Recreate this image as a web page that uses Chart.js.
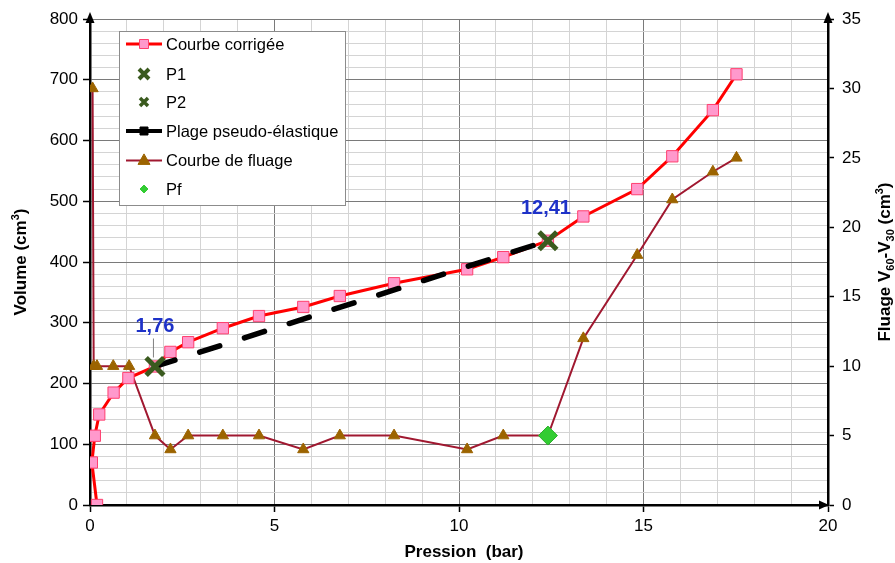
<!DOCTYPE html>
<html>
<head>
<meta charset="utf-8">
<script src="https://cdn.jsdelivr.net/npm/chart.js@4.4.1/dist/chart.umd.min.js"></script>
<style>
  html, body { margin: 0; padding: 0; background: #fff; }
  #wrap { width: 895px; height: 563px; }
</style>
</head>
<body>
<div id="wrap"><canvas id="c" width="895" height="563"></canvas></div>
<script>
// Courbe corrigée : pression (bar) / volume (cm³)
const pressionCorrigee = [0.19, 0.05, 0.13, 0.25, 0.64, 1.04, 1.76, 2.18, 2.66, 3.6, 4.58, 5.78, 6.77, 8.24, 10.22, 11.2, 12.41, 13.37, 14.83, 15.78, 16.88, 17.52];
const volumeCorrige    = [0, 70, 114, 149, 185, 209, 228, 252, 268, 291, 311, 326, 344, 365, 388, 408, 435, 475, 520, 574, 650, 709];

// Courbe de fluage : pression (bar) / V60-V30 (cm³)
const pressionFluage = [0.07, 0.1, 0.19, 0.63, 1.06, 1.76, 2.18, 2.66, 3.6, 4.58, 5.78, 6.77, 8.24, 10.22, 11.2, 12.41, 13.37, 14.83, 15.78, 16.88, 17.52];
const fluageV60V30   = [30, 10, 10, 10, 10, 5, 4, 5, 5, 5, 4, 5, 5, 4, 5, 5, 12, 18, 22, 24, 25];

// Points remarquables
const pressionP1 = 1.76,  volumeP1 = 228;
const pressionP2 = 12.41, volumeP2 = 435;
const pressionPf = 12.41, fluagePf = 5;

// Axes
const xTicksMajor = [0, 5, 10, 15, 20];
const yLeftMax = 800, yRightMax = 35;

const FONT = '"Liberation Sans", Arial, sans-serif';

const toXY = (xs, ys) => xs.map((x, i) => ({ x, y: ys[i] }));

const C = {
  red: '#ff0000',
  pinkFill: '#ff99cc',
  pinkEdge: '#ff3f6f',
  fluageLine: '#a01830',
  triangle: '#9c6400',
  green: '#3a5a1e',
  pf: '#33cc33',
  blue: '#1e32c8'
};

const datasets = [
  {
    label: 'Pf', yAxisID: 'y1', order: 0,
    data: [{ x: pressionPf, y: fluagePf }],
    showLine: false, pointStyle: 'rectRot', pointRadius: 9.5,
    backgroundColor: C.pf, borderColor: '#2bb02b', borderWidth: 1
  },
  {
    label: 'P2', yAxisID: 'y', order: 1,
    data: [{ x: pressionP2, y: volumeP2 }],
    showLine: false, pointStyle: 'crossRot', pointRadius: 12.5,
    borderColor: C.green, borderWidth: 5
  },
  {
    label: 'P1', yAxisID: 'y', order: 2,
    data: [{ x: pressionP1, y: volumeP1 }],
    showLine: false, pointStyle: 'crossRot', pointRadius: 12.5,
    borderColor: C.green, borderWidth: 5
  },
  {
    label: 'Plage pseudo-élastique', yAxisID: 'y', order: 3,
    data: [{ x: pressionP1, y: volumeP1 }, { x: pressionP2, y: volumeP2 }],
    showLine: true, borderColor: '#000', borderWidth: 5.5,
    borderDash: [21, 26], borderCapStyle: 'round',
    pointRadius: 0, tension: 0
  },
  {
    label: 'Courbe corrigée', yAxisID: 'y', order: 4,
    data: toXY(pressionCorrigee, volumeCorrige),
    showLine: true, borderColor: C.red, borderWidth: 3, tension: 0,
    pointStyle: 'rect', pointRadius: 8,
    pointBackgroundColor: C.pinkFill, pointBorderColor: C.pinkEdge, pointBorderWidth: 1
  },
  {
    label: 'Courbe de fluage', yAxisID: 'y1', order: 5,
    data: toXY(pressionFluage, fluageV60V30),
    showLine: true, borderColor: C.fluageLine, borderWidth: 2, tension: 0,
    pointStyle: 'triangle', pointRadius: 6.5,
    pointBackgroundColor: C.triangle, pointBorderColor: C.triangle, pointBorderWidth: 1
  }
];

const isMajorX = v => xTicksMajor.includes(v);
const isMajorY = v => v % 100 === 0;

// Small shape helpers for the legend symbols
function shape(ctx, type, x, y, s, fill, stroke, lw) {
  ctx.save();
  ctx.beginPath();
  if (type === 'rect') {
    ctx.rect(x - s, y - s, 2 * s, 2 * s);
  } else if (type === 'tri') {
    ctx.moveTo(x, y - s * 1.1);
    ctx.lineTo(x + s, y + s * 0.65);
    ctx.lineTo(x - s, y + s * 0.65);
    ctx.closePath();
  } else if (type === 'diamond') {
    ctx.moveTo(x, y - s); ctx.lineTo(x + s, y); ctx.lineTo(x, y + s); ctx.lineTo(x - s, y);
    ctx.closePath();
  } else if (type === 'cross') {
    ctx.moveTo(x - s, y - s); ctx.lineTo(x + s, y + s);
    ctx.moveTo(x + s, y - s); ctx.lineTo(x - s, y + s);
  }
  if (fill && type !== 'cross') { ctx.fillStyle = fill; ctx.fill(); }
  if (stroke) { ctx.strokeStyle = stroke; ctx.lineWidth = lw; ctx.stroke(); }
  ctx.restore();
}

function richText(ctx, parts, cx, cy, rotate) {
  ctx.save();
  ctx.translate(cx, cy);
  if (rotate) ctx.rotate(-Math.PI / 2);
  let total = 0;
  parts.forEach(p => {
    ctx.font = `bold ${p.size}px ${FONT}`;
    p.w = ctx.measureText(p.t).width;
    total += p.w;
  });
  let x = -total / 2;
  ctx.fillStyle = '#000';
  ctx.textAlign = 'left';
  ctx.textBaseline = 'alphabetic';
  parts.forEach(p => {
    ctx.font = `bold ${p.size}px ${FONT}`;
    ctx.fillText(p.t, x, 6 + (p.dy || 0));
    x += p.w;
  });
  ctx.restore();
}

const decor = {
  id: 'decor',
  afterDraw(chart) {
    const { ctx, chartArea: a, scales } = chart;
    const xs = scales.x, yl = scales.y;

    // Axis arrow heads
    ctx.save();
    ctx.fillStyle = '#000';
    const arrowUp = (x, y) => { ctx.beginPath(); ctx.moveTo(x, y - 7); ctx.lineTo(x + 4.5, y + 4); ctx.lineTo(x - 4.5, y + 4); ctx.closePath(); ctx.fill(); };
    arrowUp(a.left, a.top);
    arrowUp(a.right, a.top);
    ctx.beginPath(); ctx.moveTo(a.right + 1, a.bottom); ctx.lineTo(a.right - 9, a.bottom - 4.5); ctx.lineTo(a.right - 9, a.bottom + 4.5); ctx.closePath(); ctx.fill();
    ctx.restore();

    // Value labels for P1 and P2
    const p1x = xs.getPixelForValue(pressionP1), p1y = yl.getPixelForValue(volumeP1);
    const p2x = xs.getPixelForValue(pressionP2), p2y = yl.getPixelForValue(volumeP2);
    ctx.save();
    ctx.strokeStyle = '#808080'; ctx.lineWidth = 1;
    ctx.beginPath(); ctx.moveTo(p1x - 1.5, p1y - 28); ctx.lineTo(p1x - 1.5, p1y - 9); ctx.stroke();
    ctx.fillStyle = C.blue;
    ctx.font = `bold 20px ${FONT}`;
    ctx.textAlign = 'center'; ctx.textBaseline = 'middle';
    ctx.fillText('1,76', p1x, p1y - 40);
    ctx.fillText('12,41', p2x - 2, p2y - 32);
    ctx.restore();

    // Axis titles
    richText(ctx, [{ t: 'Pression  (bar)', size: 17 }], (a.left + a.right) / 2 + 5, 551, false);
    richText(ctx, [{ t: 'Volume (cm', size: 17 }, { t: '3', size: 11, dy: -7 }, { t: ')', size: 17 }], 20, (a.top + a.bottom) / 2, true);
    richText(ctx, [
      { t: 'Fluage V', size: 17 }, { t: '60', size: 11, dy: 4 },
      { t: '-V', size: 17 }, { t: '30', size: 11, dy: 4 },
      { t: ' (cm', size: 17 }, { t: '3', size: 11, dy: -7 }, { t: ')', size: 17 }
    ], 884, (a.top + a.bottom) / 2, true);

    // Legend box
    const L = { x: 119, y: 31, w: 226, h: 174 };
    ctx.save();
    ctx.fillStyle = '#fff';
    ctx.fillRect(L.x, L.y, L.w, L.h);
    ctx.strokeStyle = '#8c8c8c'; ctx.lineWidth = 1;
    ctx.strokeRect(L.x + 0.5, L.y + 0.5, L.w, L.h);
    const rows = [44, 74, 102, 131, 160.5, 189];
    const sx = 144, tx = 166;
    const line = (y, col, w) => { ctx.beginPath(); ctx.moveTo(126, y); ctx.lineTo(162, y); ctx.strokeStyle = col; ctx.lineWidth = w; ctx.stroke(); };
    line(rows[0], C.red, 3);
    shape(ctx, 'rect', sx, rows[0], 4.5, C.pinkFill, C.pinkEdge, 1);
    shape(ctx, 'cross', sx, rows[1], 5, null, C.green, 4);
    shape(ctx, 'cross', sx, rows[2], 4, null, C.green, 3.5);
    line(rows[3], '#000', 4);
    shape(ctx, 'rect', sx, rows[3], 4, '#000', '#000', 1);
    line(rows[4], C.fluageLine, 2);
    shape(ctx, 'tri', sx, rows[4], 6, C.triangle, C.triangle, 1);
    shape(ctx, 'diamond', sx, rows[5], 4, C.pf, C.pf, 1);
    const names = ['Courbe corrigée', 'P1', 'P2', 'Plage pseudo-élastique', 'Courbe de fluage', 'Pf'];
    ctx.fillStyle = '#000';
    ctx.font = `16.5px ${FONT}`;
    ctx.textAlign = 'left'; ctx.textBaseline = 'middle';
    names.forEach((n, i) => ctx.fillText(n, tx, rows[i] + 1));
    ctx.restore();
  }
};

new Chart(document.getElementById('c'), {
  type: 'scatter',
  data: { datasets },
  options: {
    responsive: false,
    animation: false,
    devicePixelRatio: 1,
    layout: { padding: { top: 19, left: 0, right: 0, bottom: 0 } },
    plugins: { legend: { display: false }, tooltip: { enabled: false } },
    scales: {
      x: {
        type: 'linear', min: 0, max: 20,
        afterFit: s => { s.height = 58; },
        ticks: {
          stepSize: 1, autoSkip: false, maxRotation: 0, padding: 4,
          color: '#000', font: { family: FONT, size: 17 },
          callback: v => (isMajorX(v) ? String(v) : '')
        },
        grid: {
          color: c => (c.tick && isMajorX(c.tick.value) ? '#7a7a7a' : '#d4d4d4'),
          lineWidth: 1,
          tickLength: 7,
          tickWidth: 1.5,
          tickColor: c => (c.tick && isMajorX(c.tick.value) ? '#000' : 'rgba(0,0,0,0)')
        },
        border: { color: '#000', width: 2.5 }
      },
      y: {
        type: 'linear', position: 'left', min: 0, max: yLeftMax,
        afterFit: s => { s.width = 90; },
        ticks: {
          stepSize: 20, autoSkip: false, padding: 5,
          color: '#000', font: { family: FONT, size: 17 },
          callback: v => (isMajorY(v) ? String(v) : '')
        },
        grid: {
          color: c => (c.tick && isMajorY(c.tick.value) ? '#7a7a7a' : '#d4d4d4'),
          lineWidth: 1,
          tickLength: 7,
          tickWidth: 1.5,
          tickColor: c => (c.tick && isMajorY(c.tick.value) ? '#000' : 'rgba(0,0,0,0)')
        },
        border: { color: '#000', width: 2.5 }
      },
      y1: {
        type: 'linear', position: 'right', min: 0, max: yRightMax,
        afterFit: s => { s.width = 67; },
        ticks: {
          stepSize: 5, padding: 8,
          color: '#000', font: { family: FONT, size: 17 }
        },
        grid: { drawOnChartArea: false, tickLength: 6, tickWidth: 1.5, tickColor: '#000' },
        border: { color: '#000', width: 2.5 }
      }
    }
  },
  plugins: [decor]
});
</script>
</body>
</html>
